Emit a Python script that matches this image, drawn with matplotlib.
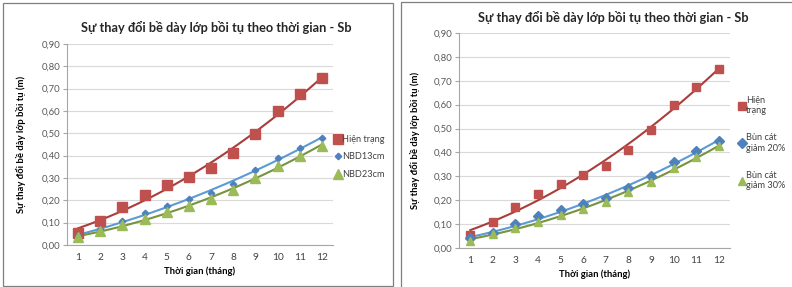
import numpy as np
import matplotlib
matplotlib.use("Agg")
import matplotlib.pyplot as plt
from matplotlib.patches import Rectangle

plt.rcParams['font.family'] = ['Lato', 'Open Sans', 'DejaVu Sans']

months = np.arange(1, 13)
month_labels = [str(m) for m in months]

# left chart
hien_trang = [0.055, 0.108, 0.17, 0.225, 0.27, 0.305, 0.345, 0.41, 0.495, 0.60, 0.675, 0.75]
nbd13 = [0.04, 0.07, 0.108, 0.145, 0.175, 0.208, 0.232, 0.275, 0.335, 0.39, 0.435, 0.478]
nbd23 = [0.035, 0.062, 0.088, 0.115, 0.147, 0.175, 0.205, 0.245, 0.30, 0.355, 0.40, 0.445]

# right chart
giam20 = [0.04, 0.062, 0.10, 0.133, 0.16, 0.183, 0.21, 0.253, 0.30, 0.36, 0.405, 0.45]
giam30 = [0.03, 0.057, 0.085, 0.11, 0.14, 0.165, 0.193, 0.233, 0.278, 0.333, 0.38, 0.427]

title = "Sự thay đổi bề dày lớp bồi tụ theo thời gian - Sb"
ylab = "Sự thay đổi bề dày lớp bồi tụ (m)"
xlab = "Thời gian (tháng)"

RED, RED_L = "#C0504D", "#A83E3B"
BLUE, BLUE_L = "#4F81BD", "#5B9BD5"
GREEN, GREEN_L = "#9BBB59", "#77933C"


def trend(ax, y, color):
    c = np.polyfit(months, y, 2)
    xs = np.linspace(1, 12, 200)
    ax.plot(xs, np.polyval(c, xs), color=color, lw=1.5, zorder=3)


def style(ax):
    ax.set_xlim(0.5, 12.5)
    ax.set_ylim(0, 0.9)
    ax.set_yticks(np.arange(0, 0.91, 0.1))
    ax.set_yticklabels([f"{v:.2f}".replace(".", ",") for v in np.arange(0, 0.91, 0.1)])
    ax.set_xticks(months)
    ax.set_xticklabels(month_labels)
    ax.grid(axis='y', color="#D9D9D9", lw=0.8)
    ax.set_axisbelow(True)
    for s in ['top', 'right']:
        ax.spines[s].set_visible(False)
    for s in ['left', 'bottom']:
        ax.spines[s].set_color("#A6A6A6")
        ax.spines[s].set_linewidth(0.8)
    ax.tick_params(axis='y', length=3, color="#A6A6A6", labelsize=6.8, labelcolor="#595959", pad=2)
    ax.tick_params(axis='x', length=0, labelsize=7.3, labelcolor="#404040", pad=6)
    ax.set_ylabel(ylab, fontsize=6.8, fontweight='bold', labelpad=6)
    ax.set_xlabel(xlab, fontsize=6.8, fontweight='bold', labelpad=3)


fig = plt.figure(figsize=(7.92, 2.87), dpi=100)

# frames of the two pictures
fig.add_artist(Rectangle((3 / 792, 1 / 287), 390 / 792, 283 / 287, transform=fig.transFigure,
                         fill=False, ec="#7F7F7F", lw=0.9))
fig.add_artist(Rectangle((401 / 792, -0.05), 0.6, 1 - 2 / 287 + 0.05, transform=fig.transFigure,
                         fill=False, ec="#7F7F7F", lw=0.9))

leg_kw = dict(frameon=False, fontsize=6.6, handletextpad=0.0, borderaxespad=0, borderpad=0,
              labelcolor="#404040", bbox_transform=fig.transFigure)

ax1 = fig.add_axes([67 / 792, 1 - 245 / 287, 266 / 792, 201 / 287])
ax1.plot(months, hien_trang, 's', color=RED, ms=6.5, ls='none', label="Hiện trạng", zorder=4)
ax1.plot(months, nbd13, 'D', color=BLUE, ms=3.3, ls='none', label="NBD13cm", zorder=4)
ax1.plot(months, nbd23, '^', color=GREEN, ms=6.5, ls='none', label="NBD23cm", zorder=4)
trend(ax1, hien_trang, RED_L)
trend(ax1, nbd13, BLUE_L)
trend(ax1, nbd23, GREEN_L)
style(ax1)
ax1.yaxis.set_label_coords(-0.155, 0.5)
ax1.set_title(title, fontsize=9.2, fontweight='bold', color="#262626", pad=9, x=0.56)
ax1.legend(loc='center left', bbox_to_anchor=(333 / 792, 1 - 157 / 287), handlelength=1.0,
           labelspacing=0.95, **leg_kw)

ax2 = fig.add_axes([459 / 792, 1 - 248 / 287, 271 / 792, 215 / 287])
ax2.plot(months, hien_trang, 's', color=RED, ms=6, ls='none', label="Hiện\ntrạng", zorder=4)
ax2.plot(months, giam20, 'D', color=BLUE, ms=5, ls='none', label="Bùn cát\ngiảm 20%", zorder=4)
ax2.plot(months, giam30, '^', color=GREEN, ms=6, ls='none', label="Bùn cát\ngiảm 30%", zorder=4)
trend(ax2, hien_trang, RED_L)
trend(ax2, giam20, BLUE_L)
trend(ax2, giam30, GREEN_L)
style(ax2)
ax2.yaxis.set_label_coords(-0.145, 0.5)
ax2.set_title(title, fontsize=9.2, fontweight='bold', color="#262626", pad=8, x=0.57)
ax2.legend(loc='center left', bbox_to_anchor=(738 / 792, 1 - 143 / 287), handlelength=0.9,
           labelspacing=2.0, **leg_kw)

fig.savefig("out.png", dpi=100)
